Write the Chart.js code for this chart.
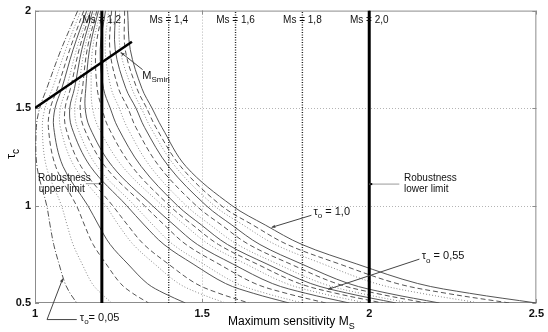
<!DOCTYPE html>
<html>
<head>
<meta charset="utf-8">
<script src="https://cdn.jsdelivr.net/npm/chart.js@4.4.1/dist/chart.umd.min.js"></script>
<style>
  html, body { margin: 0; padding: 0; background: #fff; }
  canvas { display: block; }
</style>
</head>
<body>
<canvas id="msChart" width="548" height="332"></canvas>
<script>
// tau_c levels shared by every curve (top to bottom)
const tauLevels = [2.0, 1.8, 1.6, 1.5, 1.4, 1.2, 1.0, 0.9, 0.8, 0.7, 0.6, 0.55, 0.5];

// Ms at the tau_c levels above, left to right
const msCurve01 = [1.128, 1.078, 1.035, 1.014, 1.004, 1.006, 1.035, 1.045, 1.056, 1.072, 1.090, 1.105, 1.125];
const msCurve02 = [1.137, 1.092, 1.052, 1.030, 1.022, 1.034, 1.079, 1.096, 1.114, 1.141, 1.171, 1.197, 1.230];
const msCurve03 = [1.146, 1.104, 1.067, 1.046, 1.040, 1.062, 1.124, 1.148, 1.174, 1.213, 1.256, 1.292, 1.340];
const msCurve04 = [1.155, 1.114, 1.080, 1.060, 1.056, 1.084, 1.158, 1.190, 1.225, 1.278, 1.336, 1.386, 1.450];
const msCurve05 = [1.161, 1.124, 1.094, 1.076, 1.076, 1.118, 1.211, 1.250, 1.294, 1.358, 1.430, 1.491, 1.570];
const msCurve06 = [1.167, 1.132, 1.106, 1.090, 1.092, 1.138, 1.232, 1.277, 1.326, 1.399, 1.481, 1.550, 1.640];
const msCurve07 = [1.173, 1.140, 1.118, 1.104, 1.110, 1.166, 1.274, 1.327, 1.386, 1.473, 1.570, 1.653, 1.760];
const msCurve08 = [1.179, 1.148, 1.130, 1.119, 1.127, 1.186, 1.298, 1.353, 1.413, 1.504, 1.604, 1.690, 1.800];
const msCurve09 = [1.185, 1.156, 1.142, 1.135, 1.146, 1.210, 1.327, 1.387, 1.452, 1.550, 1.658, 1.751, 1.870];
const msCurve10 = [1.190, 1.163, 1.152, 1.150, 1.164, 1.232, 1.351, 1.416, 1.486, 1.592, 1.710, 1.810, 1.940];
const msCurve11 = [1.196, 1.172, 1.168, 1.172, 1.190, 1.262, 1.381, 1.448, 1.521, 1.631, 1.752, 1.856, 1.990];
const msCurve12 = [1.202, 1.182, 1.186, 1.200, 1.220, 1.290, 1.402, 1.472, 1.549, 1.664, 1.791, 1.900, 2.040];
const msCurve13 = [1.211, 1.195, 1.205, 1.225, 1.248, 1.318, 1.426, 1.498, 1.576, 1.694, 1.825, 1.936, 2.080];
const msCurve14 = [1.220, 1.210, 1.228, 1.252, 1.276, 1.345, 1.452, 1.525, 1.606, 1.726, 1.860, 1.973, 2.120];
const msCurve15 = [1.229, 1.224, 1.250, 1.278, 1.302, 1.372, 1.482, 1.558, 1.640, 1.764, 1.902, 2.019, 2.170];
const msCurve16 = [1.241, 1.240, 1.272, 1.302, 1.328, 1.400, 1.512, 1.589, 1.673, 1.798, 1.938, 2.056, 2.210];
const msCurve17 = [1.253, 1.255, 1.290, 1.318, 1.346, 1.420, 1.536, 1.623, 1.719, 1.862, 2.020, 2.155, 2.330];
const msCurve18 = [1.268, 1.270, 1.305, 1.334, 1.362, 1.436, 1.557, 1.652, 1.755, 1.911, 2.083, 2.230, 2.420];
const msCurve19 = [1.277, 1.285, 1.320, 1.350, 1.380, 1.452, 1.589, 1.689, 1.799, 1.963, 2.145, 2.300, 2.500];

const msCurves = [msCurve01, msCurve02, msCurve03, msCurve04, msCurve05, msCurve06, msCurve07,
                  msCurve08, msCurve09, msCurve10, msCurve11, msCurve12, msCurve13, msCurve14,
                  msCurve15, msCurve16, msCurve17, msCurve18, msCurve19];
// first curve dash-dot, then repeating dotted / dashed / solid
const curveStyles = ['dashdot', 'dotted', 'dashed', 'solid', 'dotted', 'dashed', 'solid', 'dotted', 'dashed', 'solid',
                     'dotted', 'dashed', 'solid', 'dotted', 'dashed', 'solid', 'dotted', 'dashed', 'solid'];

// Ms reference lines
const msMarkers = [1.2, 1.4, 1.6, 1.8, 2.0];
const msMarkerLabels = ['Ms = 1,2', 'Ms = 1,4', 'Ms = 1,6', 'Ms = 1,8', 'Ms = 2,0'];
const msLimits = [1.2, 2.0];

// MSmin line end points
const msMinX = [1.0, 1.29];
const msMinY = [1.5, 1.84];

// axes
const xTicks = [1, 1.5, 2, 2.5];
const yTicks = [0.5, 1, 1.5, 2];

const STYLE = {
    solid:   { color: '#555', dash: [] },
    dashed:  { color: '#555', dash: [5, 3] },
    dotted:  { color: '#8a8a8a', dash: [1, 2] },
    dashdot: { color: '#555', dash: [6, 2, 1, 2] }
};
const FONT = 'Liberation Sans, Arial, sans-serif';

const datasets = [];

// markers first so they sit on top of the curves
msMarkers.forEach(ms => {
    const thick = msLimits.includes(ms);
    datasets.push({
        data: [{ x: ms, y: yTicks[0] }, { x: ms, y: yTicks[yTicks.length - 1] }],
        borderColor: thick ? '#000' : '#222',
        borderWidth: thick ? 3 : 1.4,
        borderDash: thick ? [] : [1, 1.5],
        showLine: true, pointRadius: 0
    });
});
datasets.push({
    data: msMinX.map((x, i) => ({ x: x, y: msMinY[i] })),
    borderColor: '#000', borderWidth: 2.5,
    showLine: true, pointRadius: 0
});

msCurves.forEach((ms, i) => {
    const st = STYLE[curveStyles[i]];
    datasets.push({
        data: ms.map((x, j) => ({ x: x, y: tauLevels[j] })),
        borderColor: st.color, borderWidth: 1, borderDash: st.dash,
        showLine: true, pointRadius: 0, tension: 0.35
    });
});

// dotted grid, grey box and inner tick marks
const framePlugin = {
    id: 'frame',
    beforeDatasetsDraw(chart) {
        const { ctx, chartArea: a, scales: { x, y } } = chart;
        ctx.save();
        ctx.strokeStyle = '#b4b4b4';
        ctx.lineWidth = 1;
        ctx.setLineDash([1, 2]);
        xTicks.slice(1, -1).forEach(v => {
            const px = Math.round(x.getPixelForValue(v)) + 0.5;
            ctx.beginPath(); ctx.moveTo(px, a.top); ctx.lineTo(px, a.bottom); ctx.stroke();
        });
        yTicks.slice(1, -1).forEach(v => {
            const py = Math.round(y.getPixelForValue(v)) + 0.5;
            ctx.beginPath(); ctx.moveTo(a.left, py); ctx.lineTo(a.right, py); ctx.stroke();
        });
        ctx.setLineDash([]);
        ctx.strokeStyle = '#8c8c8c';
        ctx.strokeRect(a.left + 0.5, a.top + 0.5, a.right - a.left - 1, a.bottom - a.top - 1);
        ctx.beginPath();
        xTicks.forEach(v => {
            const px = Math.round(x.getPixelForValue(v)) + 0.5;
            ctx.moveTo(px, a.bottom); ctx.lineTo(px, a.bottom - 4);
            ctx.moveTo(px, a.top); ctx.lineTo(px, a.top + 4);
        });
        yTicks.forEach(v => {
            const py = Math.round(y.getPixelForValue(v)) + 0.5;
            ctx.moveTo(a.left, py); ctx.lineTo(a.left + 4, py);
            ctx.moveTo(a.right, py); ctx.lineTo(a.right - 4, py);
        });
        ctx.stroke();
        ctx.restore();
    }
};

// text with a lowered, smaller part: main + sub + rest
function subText(ctx, main, sub, rest, x, y, size, align) {
    ctx.font = size + 'px ' + FONT;
    const w1 = ctx.measureText(main).width;
    ctx.font = Math.round(size * 0.75) + 'px ' + FONT;
    const w2 = ctx.measureText(sub).width;
    ctx.font = size + 'px ' + FONT;
    const w3 = ctx.measureText(rest).width;
    let x0 = x;
    if (align === 'center') x0 = x - (w1 + w2 + w3) / 2;
    ctx.textAlign = 'left';
    ctx.textBaseline = 'middle';
    ctx.fillText(main, x0, y);
    ctx.font = Math.round(size * 0.75) + 'px ' + FONT;
    ctx.fillText(sub, x0 + w1, y + size * 0.4);
    ctx.font = size + 'px ' + FONT;
    ctx.fillText(rest, x0 + w1 + w2, y);
}

function arrow(ctx, pts, color, head) {
    ctx.strokeStyle = color;
    ctx.fillStyle = color;
    ctx.lineWidth = 1;
    ctx.beginPath();
    ctx.moveTo(pts[0][0], pts[0][1]);
    pts.slice(1).forEach(p => ctx.lineTo(p[0], p[1]));
    ctx.stroke();
    const [x1, y1] = pts[pts.length - 2];
    const [x2, y2] = pts[pts.length - 1];
    const ang = Math.atan2(y2 - y1, x2 - x1);
    ctx.beginPath();
    ctx.moveTo(x2, y2);
    ctx.lineTo(x2 - head * Math.cos(ang - 0.45), y2 - head * Math.sin(ang - 0.45));
    ctx.lineTo(x2 - head * Math.cos(ang + 0.45), y2 - head * Math.sin(ang + 0.45));
    ctx.closePath();
    ctx.fill();
}

// labels and pointers, placed in data units
const notesPlugin = {
    id: 'notes',
    afterDraw(chart) {
        const { ctx, scales: { x, y } } = chart;
        const X = v => x.getPixelForValue(v);
        const Y = v => y.getPixelForValue(v);
        ctx.save();
        ctx.fillStyle = '#111';

        ctx.font = '10px ' + FONT;
        ctx.textAlign = 'center';
        ctx.textBaseline = 'middle';
        msMarkers.forEach((ms, i) => ctx.fillText(msMarkerLabels[i], X(ms), Y(1.95)));

        // MSmin
        subText(ctx, 'M', 'Smin', '', X(1.321), Y(1.667), 11, 'left');
        arrow(ctx, [[X(1.322), Y(1.697)], [X(1.257), Y(1.785)]], '#444', 4);

        // robustness limits
        ctx.fillStyle = '#111';
        ctx.font = '10px ' + FONT;
        ctx.textAlign = 'left';
        ctx.fillText('Robustness', X(1.009), Y(1.14));
        ctx.fillText('upper limit', X(1.011), Y(1.085));
        ctx.fillText('Robustness', X(2.104), Y(1.14));
        ctx.fillText('lower limit', X(2.104), Y(1.085));
        ctx.strokeStyle = '#999';
        ctx.lineWidth = 1;
        ctx.beginPath();
        ctx.moveTo(X(1.152), Y(1.112)); ctx.lineTo(X(1.2), Y(1.112));
        ctx.moveTo(X(2.09), Y(1.11)); ctx.lineTo(X(2.0), Y(1.11));
        ctx.stroke();
        ctx.fillStyle = '#000';
        ctx.fillRect(X(1.2) - 3, Y(1.112) - 1, 2, 2);
        ctx.fillRect(X(2.0) + 1, Y(1.11) - 1, 2, 2);

        // tau_o labels
        ctx.fillStyle = '#111';
        subText(ctx, '\u03C4', 'o', ' = 1,0', X(1.833), Y(0.968), 11, 'left');
        arrow(ctx, [[X(1.827), Y(0.95)], [X(1.708), Y(0.888)]], '#444', 4);
        ctx.fillStyle = '#111';
        subText(ctx, '\u03C4', 'o', ' = 0,55', X(2.157), Y(0.74), 11, 'left');
        arrow(ctx, [[X(2.15), Y(0.725)], [X(1.877), Y(0.57)]], '#444', 4);
        ctx.fillStyle = '#111';
        subText(ctx, '\u03C4', 'o', '= 0,05', X(1.134), Y(0.425), 11, 'left');
        arrow(ctx, [[X(1.125), Y(0.415)], [X(1.036), Y(0.415)], [X(1.083), Y(0.625)]], '#444', 4);

        // axis titles
        ctx.fillStyle = '#000';
        subText(ctx, 'Maximum sensitivity M', 'S', '', 228, 322, 12, 'left');
        ctx.translate(11, 154);
        ctx.rotate(-Math.PI / 2);
        subText(ctx, '\u03C4', 'c', '', 0, 0, 13, 'center');
        ctx.restore();
    }
};

new Chart(document.getElementById('msChart'), {
    type: 'scatter',
    data: { datasets: datasets },
    options: {
        responsive: false,
        animation: false,
        layout: { padding: { top: 3, right: 9, left: 0, bottom: 0 } },
        plugins: { legend: { display: false }, tooltip: { enabled: false } },
        scales: {
            x: {
                type: 'linear', min: 1, max: 2.5,
                afterBuildTicks: s => { s.ticks = xTicks.map(v => ({ value: v })); },
                afterFit: s => { s.height = 29; },
                grid: { display: false, drawTicks: false },
                border: { display: false },
                ticks: { color: '#111', padding: 4, font: { family: FONT, size: 11, weight: 'bold' }, callback: v => String(v) }
            },
            y: {
                type: 'linear', min: 0.5, max: 2,
                afterBuildTicks: s => { s.ticks = yTicks.map(v => ({ value: v })); },
                afterFit: s => { s.width = 35; },
                grid: { display: false, drawTicks: false },
                border: { display: false },
                ticks: { color: '#111', padding: 4, font: { family: FONT, size: 11, weight: 'bold' }, callback: v => String(v) }
            }
        }
    },
    plugins: [framePlugin, notesPlugin]
});
</script>
</body>
</html>
